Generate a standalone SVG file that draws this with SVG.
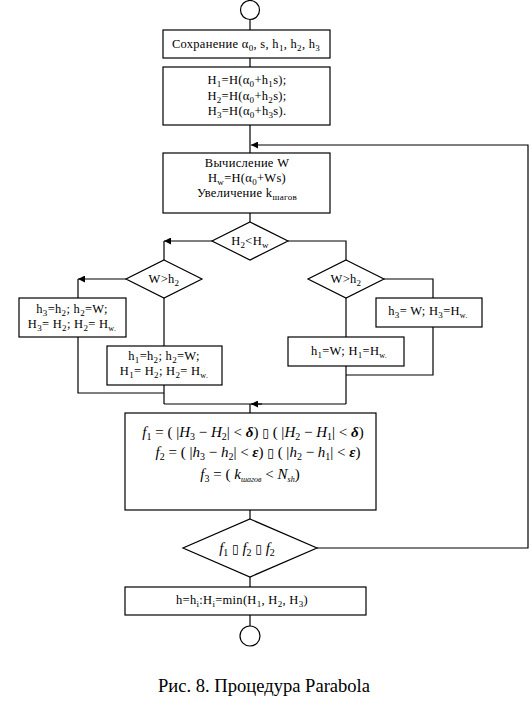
<svg xmlns="http://www.w3.org/2000/svg" width="530" height="703" viewBox="0 0 530 703">
<defs>
<marker id="ah" viewBox="0 0 8 8" refX="8" refY="4" markerWidth="7" markerHeight="7" orient="auto" markerUnits="userSpaceOnUse">
<path d="M0,0 L8,4 L0,8 Z" fill="#000"/>
</marker>
<style>
.s{fill:#fff;stroke:#000;stroke-width:1.2}
.c{fill:none;stroke:#000;stroke-width:1.2}
.t{font-family:"Liberation Serif","Times New Roman",serif;font-size:12.5px;letter-spacing:0.3px;fill:#000;text-anchor:middle}
.m{font-family:"Liberation Serif","Times New Roman",serif;font-size:15px;fill:#000;text-anchor:middle}
.i{font-style:italic}
.g{font-style:italic;font-weight:bold}
.b{font-family:"DejaVu Sans",sans-serif;font-size:12px}
.cap{font-family:"Liberation Serif","Times New Roman",serif;font-size:19px;fill:#000}
</style>
</defs>
<rect width="530" height="703" fill="#fff"/>
<g id="connectors">
<path class="c" d="M250,20 V30"/>
<path class="c" d="M250,58 V67"/>
<path class="c" d="M250,125 V153"/>
<path class="c" d="M250,213 V222"/>
<path class="c" d="M212,241 H164" marker-end="url(#ah)"/>
<path class="c" d="M164,241 V260"/>
<path class="c" d="M288,241 H346 V260"/>
<path class="c" d="M126,279 H78" marker-end="url(#ah)"/>
<path class="c" d="M78,279 V298"/>
<path class="c" d="M164,298 V346"/>
<path class="c" d="M78,337 V393 H164"/>
<path class="c" d="M164,385 V404"/>
<path class="c" d="M384,279 H433 V298"/>
<path class="c" d="M346,298 V337"/>
<path class="c" d="M433,327 V375 H346"/>
<path class="c" d="M346,366 V404"/>
<path class="c" d="M164,404 H346"/>
<path class="c" d="M262,404 H251" marker-end="url(#ah)"/>
<path class="c" d="M250,404 V413"/>
<path class="c" d="M250,510 V519"/>
<path class="c" d="M317,548 H528 V145 H251" marker-end="url(#ah)"/>
<path class="c" d="M250,577 V587"/>
<path class="c" d="M250,615 V626"/>
</g>
<g id="start"><circle class="s" cx="250" cy="10" r="9.5"/></g>
<g id="save">
<rect class="s" x="163" y="30" width="167" height="28"/>
<text class="t" x="246" y="48">Сохранение α<tspan font-size="9" dy="3">0</tspan><tspan dy="-3">, s, h</tspan><tspan font-size="9" dy="3">1</tspan><tspan dy="-3">, h</tspan><tspan font-size="9" dy="3">2</tspan><tspan dy="-3">, h</tspan><tspan font-size="9" dy="3">3</tspan></text>
</g>
<g id="init">
<rect class="s" x="163" y="67" width="167" height="58"/>
<text class="t" x="247" y="84">H<tspan font-size="9" dy="3">1</tspan><tspan dy="-3">=H(α</tspan><tspan font-size="9" dy="3">0</tspan><tspan dy="-3">+h</tspan><tspan font-size="9" dy="3">1</tspan><tspan dy="-3">s);</tspan></text>
<text class="t" x="247" y="100">H<tspan font-size="9" dy="3">2</tspan><tspan dy="-3">=H(α</tspan><tspan font-size="9" dy="3">0</tspan><tspan dy="-3">+h</tspan><tspan font-size="9" dy="3">2</tspan><tspan dy="-3">s);</tspan></text>
<text class="t" x="247" y="115">H<tspan font-size="9" dy="3">3</tspan><tspan dy="-3">=H(α</tspan><tspan font-size="9" dy="3">0</tspan><tspan dy="-3">+h</tspan><tspan font-size="9" dy="3">3</tspan><tspan dy="-3">s).</tspan></text>
</g>
<g id="calc">
<rect class="s" x="163" y="153" width="167" height="60"/>
<text class="t" x="247" y="167">Вычисление W</text>
<text class="t" x="247" y="182">H<tspan font-size="9" dy="3">w</tspan><tspan dy="-3">=H(α</tspan><tspan font-size="9" dy="3">0</tspan><tspan dy="-3">+Ws)</tspan></text>
<text class="t" x="247" y="197">Увеличение k<tspan font-size="9" dy="3">шагов</tspan></text>
</g>
<g id="cmp1">
<polygon class="s" points="250,222 288,241 250,260 212,241"/>
<text class="t" x="250" y="245">H<tspan font-size="9" dy="3">2</tspan><tspan dy="-3">&lt;H</tspan><tspan font-size="9" dy="3">w</tspan></text>
</g>
<g id="cmpL">
<polygon class="s" points="164,260 202,279 164,298 126,279"/>
<text class="t" x="164" y="283">W&gt;h<tspan font-size="9" dy="3">2</tspan></text>
</g>
<g id="cmpR">
<polygon class="s" points="346,260 384,279 346,298 308,279"/>
<text class="t" x="346" y="283">W&gt;h<tspan font-size="9" dy="3">2</tspan></text>
</g>
<g id="boxLL">
<rect class="s" x="19" y="298" width="107" height="39"/>
<text class="t" x="72" y="313">h<tspan font-size="9" dy="3">3</tspan><tspan dy="-3">=h</tspan><tspan font-size="9" dy="3">2</tspan><tspan dy="-3">; h</tspan><tspan font-size="9" dy="3">2</tspan><tspan dy="-3">=W;</tspan></text>
<text class="t" x="72" y="328">H<tspan font-size="9" dy="3">3</tspan><tspan dy="-3">= H</tspan><tspan font-size="9" dy="3">2</tspan><tspan dy="-3">; H</tspan><tspan font-size="9" dy="3">2</tspan><tspan dy="-3">= H</tspan><tspan font-size="8" dy="3">w.</tspan></text>
</g>
<g id="boxLR">
<rect class="s" x="107" y="346" width="115" height="39"/>
<text class="t" x="164" y="360">h<tspan font-size="9" dy="3">1</tspan><tspan dy="-3">=h</tspan><tspan font-size="9" dy="3">2</tspan><tspan dy="-3">; h</tspan><tspan font-size="9" dy="3">2</tspan><tspan dy="-3">=W;</tspan></text>
<text class="t" x="164" y="375">H<tspan font-size="9" dy="3">1</tspan><tspan dy="-3">= H</tspan><tspan font-size="9" dy="3">2</tspan><tspan dy="-3">; H</tspan><tspan font-size="9" dy="3">2</tspan><tspan dy="-3">= H</tspan><tspan font-size="8" dy="3">w.</tspan></text>
</g>
<g id="boxRR">
<rect class="s" x="376" y="298" width="106" height="29"/>
<text class="t" x="428" y="315">h<tspan font-size="9" dy="3">3</tspan><tspan dy="-3">= W; H</tspan><tspan font-size="9" dy="3">3</tspan><tspan dy="-3">=H</tspan><tspan font-size="8" dy="3">w.</tspan></text>
</g>
<g id="boxRL">
<rect class="s" x="288" y="337" width="116" height="29"/>
<text class="t" x="349" y="355">h<tspan font-size="9" dy="3">1</tspan><tspan dy="-3">=W; H</tspan><tspan font-size="9" dy="3">1</tspan><tspan dy="-3">=H</tspan><tspan font-size="8" dy="3">w.</tspan></text>
</g>
<g id="flags">
<rect class="s" x="125" y="413" width="251" height="97"/>
<text class="m" x="253" y="437"><tspan class="i">f</tspan><tspan font-size="10" dy="3">1</tspan><tspan dy="-3"> = ( |</tspan><tspan class="i">H</tspan><tspan font-size="10" dy="3">3</tspan><tspan dy="-3"> − </tspan><tspan class="i">H</tspan><tspan font-size="10" dy="3">2</tspan><tspan dy="-3">| &lt; </tspan><tspan class="g">δ</tspan><tspan>) </tspan><tspan class="b">▯</tspan><tspan> ( |</tspan><tspan class="i">H</tspan><tspan font-size="10" dy="3">2</tspan><tspan dy="-3"> − </tspan><tspan class="i">H</tspan><tspan font-size="10" dy="3">1</tspan><tspan dy="-3">| &lt; </tspan><tspan class="g">δ</tspan><tspan>)</tspan></text>
<text class="m" x="258" y="457"><tspan class="i">f</tspan><tspan font-size="10" dy="3">2</tspan><tspan dy="-3"> = ( |</tspan><tspan class="i">h</tspan><tspan font-size="10" dy="3">3</tspan><tspan dy="-3"> − </tspan><tspan class="i">h</tspan><tspan font-size="10" dy="3">2</tspan><tspan dy="-3">| &lt; </tspan><tspan class="g">ε</tspan><tspan>) </tspan><tspan class="b">▯</tspan><tspan> ( |</tspan><tspan class="i">h</tspan><tspan font-size="10" dy="3">2</tspan><tspan dy="-3"> − </tspan><tspan class="i">h</tspan><tspan font-size="10" dy="3">1</tspan><tspan dy="-3">| &lt; </tspan><tspan class="g">ε</tspan><tspan>)</tspan></text>
<text class="m" x="250" y="479"><tspan class="i">f</tspan><tspan font-size="10" dy="3">3</tspan><tspan dy="-3"> = ( </tspan><tspan class="i">k</tspan><tspan font-size="8" class="i" dy="3">шагов</tspan><tspan dy="-3"> &lt; </tspan><tspan class="i">N</tspan><tspan font-size="8" class="i" dy="3">sh</tspan><tspan dy="-3">)</tspan></text>
</g>
<g id="cond">
<polygon class="s" points="250,519 317,548 250,577 183,548"/>
<text class="m" x="247" y="553"><tspan class="i">f</tspan><tspan font-size="10" dy="3">1</tspan><tspan dy="-3"> </tspan><tspan class="b">▯</tspan><tspan>  </tspan><tspan class="i">f</tspan><tspan font-size="10" dy="3">2</tspan><tspan dy="-3"> </tspan><tspan class="b">▯</tspan><tspan>  </tspan><tspan class="i">f</tspan><tspan font-size="10" dy="3">2</tspan></text>
</g>
<g id="result">
<rect class="s" x="125" y="587" width="241" height="28"/>
<text class="t" x="242" y="604">h=h<tspan font-size="9" dy="3">i</tspan><tspan dy="-3">:H</tspan><tspan font-size="9" dy="3">i</tspan><tspan dy="-3">=min(H</tspan><tspan font-size="9" dy="3">1</tspan><tspan dy="-3">, H</tspan><tspan font-size="9" dy="3">2</tspan><tspan dy="-3">, H</tspan><tspan font-size="9" dy="3">3</tspan><tspan dy="-3">)</tspan></text>
</g>
<g id="end"><circle class="s" cx="250" cy="636" r="10"/></g>
<text class="cap" x="158" y="692" textLength="212" lengthAdjust="spacingAndGlyphs">Рис. 8. Процедура Parabola</text>
</svg>
